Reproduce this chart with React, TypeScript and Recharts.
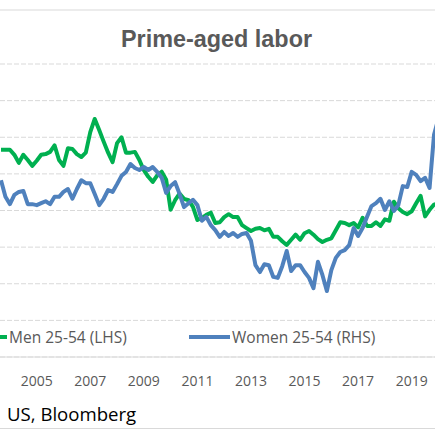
import { LineChart, Line, XAxis, YAxis, CartesianGrid, Legend } from 'recharts';

// bimonthly readings, first one is Sep 2003
const startYear = 2003;
const startMonth = 9;

const men = [
  89.83, 89.83, 89.83, 89.76, 89.65, 89.76, 89.69, 89.61, 89.68, 89.76,
  89.77, 89.80, 89.89, 89.69, 89.61, 89.85, 89.84, 89.77, 89.73, 89.79,
  90.07, 90.25, 90.10, 89.94, 89.79, 89.66, 89.92, 90.00, 89.79, 89.79,
  89.80, 89.69, 89.55, 89.46, 89.39, 89.48, 89.53, 89.42, 89.01, 89.14,
  89.23, 89.16, 89.14, 89.05, 88.87, 88.90, 88.94, 88.97, 88.83, 88.84,
  88.91, 88.95, 88.91, 88.91, 88.80, 88.76, 88.72, 88.75, 88.76, 88.73,
  88.75, 88.64, 88.64, 88.58, 88.53, 88.60, 88.67, 88.60, 88.69, 88.72,
  88.67, 88.61, 88.57, 88.60, 88.62, 88.73, 88.84, 88.83, 88.80, 88.83,
  88.77, 88.90, 88.79, 88.79, 88.84, 88.79, 88.88, 88.86, 89.12, 89.03,
  88.98, 88.95, 88.99, 89.10, 89.20, 88.92, 89.01, 89.08, 89.10,
];

const women = [
  75.62, 75.28, 75.13, 75.32, 75.38, 75.40, 75.13, 75.13, 75.11, 75.15,
  75.19, 75.13, 75.28, 75.28, 75.38, 75.44, 75.24, 75.44, 75.62, 75.56,
  75.56, 75.34, 75.11, 75.24, 75.42, 75.38, 75.54, 75.71, 75.79, 75.95,
  75.87, 75.83, 75.89, 75.83, 75.89, 75.79, 75.67, 75.36, 75.50, 75.58,
  75.34, 75.07, 75.15, 75.22, 75.11, 74.79, 74.87, 74.70, 74.60, 74.46,
  74.56, 74.48, 74.54, 74.46, 74.52, 74.54, 74.38, 73.88, 73.74, 73.90,
  73.88, 73.64, 73.62, 73.86, 74.17, 73.76, 73.88, 73.88, 73.74, 73.62,
  73.41, 73.95, 73.68, 73.35, 73.78, 74.03, 74.15, 74.19, 74.29, 74.64,
  74.48, 74.64, 74.87, 75.09, 75.15, 75.24, 75.01, 75.19, 74.99, 75.11,
  75.50, 75.48, 75.79, 75.73, 75.60, 75.67, 75.46, 76.55, 76.89,
];

const yearTicks = [2005, 2007, 2009, 2011, 2013, 2015, 2017, 2019];
const menTicks = [87, 87.5, 88, 88.5, 89, 89.5, 90, 90.5, 91];
const womenTicks = [72, 72.75, 73.5, 74.25, 75, 75.75, 76.5, 77.25, 78];

const data = men.map((m, i) => {
  const idx = startMonth - 1 + i * 2;
  const year = startYear + Math.floor(idx / 12);
  const month = idx % 12;
  return { t: year + month / 12, men: m, women: women[i] };
});

const GREEN = '#00B050';
const BLUE = '#4F81BD';
const GRAY_TEXT = '#595959';
const RULE = '#D9D9D9';
const legendLeft = [-34, 189];

const renderLegend = (props: any) => {
  const { payload } = props;
  return (
    <div style={{ position: 'relative', height: 22, fontFamily: '"Open Sans"', fontSize: 15.5, color: GRAY_TEXT }}>
      {(payload || []).map((entry: any, i: number) => (
        <div
          key={`legend-${i}`}
          style={{ position: 'absolute', left: legendLeft[i], top: 0, height: 22, display: 'flex', alignItems: 'center', whiteSpace: 'nowrap' }}
        >
          <span style={{ display: 'inline-block', width: 41, height: 4, background: entry.color, marginRight: 2 }} />
          <span style={{ lineHeight: '22px' }}>{entry.value}</span>
        </div>
      ))}
    </div>
  );
};

export default function App() {
  return (
    <div style={{ position: 'absolute', left: 0, top: 0, width: 435, height: 435, overflow: 'hidden', background: '#fff' }}>
      <svg width={435} height={435} style={{ position: 'absolute', left: 0, top: 0 }}>
        <line x1={0} x2={435} y1={10} y2={10} stroke={RULE} strokeWidth={1.2} />
        <line x1={0} x2={435} y1={428.5} y2={428.5} stroke={RULE} strokeWidth={1.2} />
        <text x={216.5} y={46.7} textAnchor="middle" fontFamily='"Liberation Sans", Arial' fontWeight="bold" fontSize={23.4} fill={GRAY_TEXT}>
          Prime-aged labor
        </text>
        <text x={7} y={421} fontFamily='"Open Sans"' fontSize={18.6} fill="#000">
          US, Bloomberg
        </text>
      </svg>
      <div style={{ position: 'absolute', left: 0, top: 0 }}>
        <LineChart width={435} height={435} data={data} margin={{ top: 64, right: 0, left: 0, bottom: 48 }}>
          <CartesianGrid yAxisId="left" vertical={false} stroke={RULE} strokeDasharray="5 2" />
          <XAxis
            dataKey="t"
            type="number"
            domain={[2003.63, 2019.87]}
            allowDataOverflow
            ticks={yearTicks}
            height={30}
            tickSize={0}
            tickMargin={19}
            axisLine={{ stroke: RULE, strokeWidth: 1.2 }}
            tickLine={false}
            tick={{ fill: GRAY_TEXT, fontSize: 14, fontFamily: '"Open Sans"' }}
          />
          <YAxis yAxisId="left" hide domain={[87, 91]} ticks={menTicks} allowDataOverflow />
          <YAxis yAxisId="right" orientation="right" hide domain={[72, 78]} ticks={womenTicks} allowDataOverflow />
          <Legend
            content={renderLegend}
            layout="horizontal"
            verticalAlign="middle"
            align="center"
            wrapperStyle={{ top: 326, left: 0, width: 435, height: 22 }}
          />
          <Line yAxisId="left" type="linear" dataKey="men" name="Men 25-54 (LHS)" stroke={GREEN} strokeWidth={4} strokeLinejoin="round" dot={false} isAnimationActive={false} />
          <Line yAxisId="right" type="linear" dataKey="women" name="Women 25-54 (RHS)" stroke={BLUE} strokeWidth={4} strokeLinejoin="round" dot={false} isAnimationActive={false} />
        </LineChart>
      </div>
    </div>
  );
}
